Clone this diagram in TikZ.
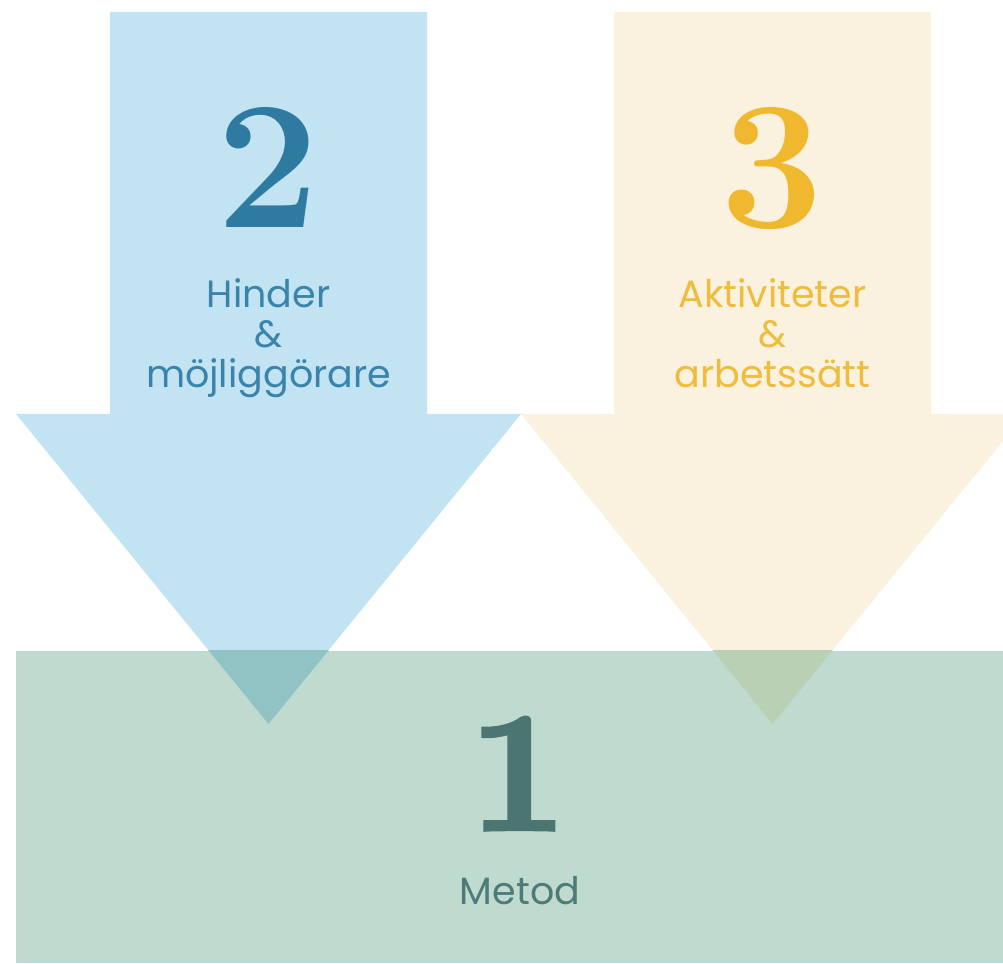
\documentclass[tikz,border=0pt]{standalone}
\usepackage{fontspec}
\newfontfamily\labelfont{Poppins}
\newfontfamily\heavynum[FakeBold=2]{lmroman10-bold.otf}
\definecolor{bluefill}{HTML}{C2E3F2}
\definecolor{yellowfill}{HTML}{FAF1DF}
\definecolor{greenfill}{HTML}{BFDBD0}
\definecolor{bluegreen}{HTML}{91C2C4}
\definecolor{yellowgreen}{HTML}{B9D0B5}
\definecolor{bluenum}{HTML}{2F7AA1}
\definecolor{bluetext}{HTML}{3A84AC}
\definecolor{yellownum}{HTML}{EFB82F}
\definecolor{yellowtext}{HTML}{EFBC3B}
\definecolor{greennum}{HTML}{4A7570}
\definecolor{greentext}{HTML}{4E7A77}
\tikzset{
  numtext/.style={inner sep=0pt, anchor=base, font=\fontsize{183}{183}\selectfont\bfseries},
  labtext/.style={inner sep=0pt, anchor=north, align=center, font=\labelfont\fontsize{38}{40}\selectfont},
}
\begin{document}
\begin{tikzpicture}[x=1pt,y=1pt]
\useasboundingbox (0,0) rectangle (1003,963);
% arrows
\fill[bluefill] (110,951) -- (427,951) -- (427,549) -- (521,549) -- (268.5,239) -- (16,549) -- (110,549) -- cycle;
\fill[yellowfill] (614,951) -- (931,951) -- (931,549) -- (1025,549) -- (772.5,239) -- (521,549) -- (614,549) -- cycle;
% base rectangle
\fill[greenfill] (16,0) rectangle (1003,312);
% overlaps
\begin{scope}
\clip (16,0) rectangle (1003,312);
\fill[bluegreen] (521,549) -- (268.5,239) -- (16,549) -- cycle;
\fill[yellowgreen] (1025,549) -- (772.5,239) -- (521,549) -- cycle;
\end{scope}
% texts
\node[numtext, text=bluenum] (n2) at (268.5,735) {2};
\node[labtext, text=bluetext] (l2) at (268.5,685) {Hinder\\\&\\möjliggörare};
\node[numtext, text=yellownum] (n3) at (772.5,735) {3};
\node[labtext, text=yellowtext] (l3) at (772.5,685) {Aktiviteter\\\&\\arbetssätt};
\node[inner sep=0pt, anchor=base, font=\heavynum\fontsize{172}{172}\selectfont, text=greennum] (n1) at (518,133) {1};
\node[inner sep=0pt, anchor=base, font=\labelfont\fontsize{38}{40}\selectfont, text=greentext] (l1) at (520,58) {Metod};
\end{tikzpicture}
\end{document}
